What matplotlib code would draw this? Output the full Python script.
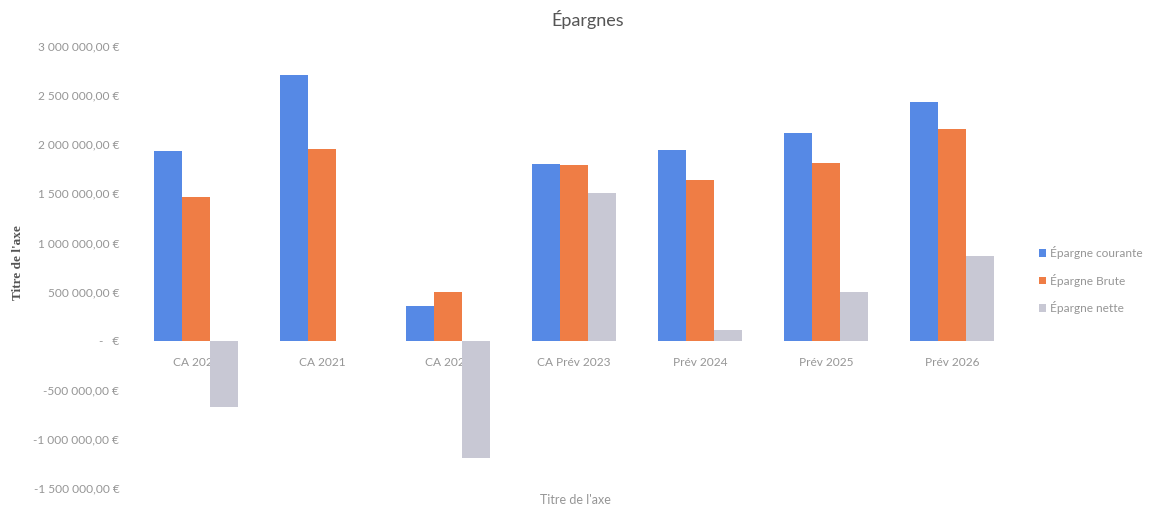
import matplotlib
matplotlib.use("Agg")
import matplotlib.pyplot as plt
import numpy as np

categories = ["CA 2020", "CA 2021", "CA 2022", "CA Prév 2023", "Prév 2024", "Prév 2025", "Prév 2026"]
epargne_courante = [1930000, 2700000, 356000, 1796000, 1940000, 2110000, 2430000]
epargne_brute = [1458000, 1948000, 495000, 1789000, 1636000, 1810000, 2160000]
epargne_nette = [-674000, 0, -1190000, 1507000, 112000, 495000, 864000]
series_names = ["Épargne courante", "Épargne Brute", "Épargne nette"]
y_ticks = [-1500000, -1000000, -500000, 0, 500000, 1000000, 1500000, 2000000, 2500000, 3000000]
y_tick_labels = ["-1 500 000,00 €", "-1 000 000,00 €", "-500 000,00 €", "-   €",
                 "500 000,00 €", "1 000 000,00 €", "1 500 000,00 €", "2 000 000,00 €",
                 "2 500 000,00 €", "3 000 000,00 €"]

colors = ["#5689e5", "#ef7d45", "#c8c8d4"]
text_color = "#969696"
font = ["Lato", "DejaVu Sans"]

fig = plt.figure(figsize=(11.53, 5.08), dpi=100)
ax = fig.add_axes([0.1155, 0.0394, 0.765, 0.870])

x = np.arange(len(categories))
w = 0.222
for i, (vals, name) in enumerate(zip([epargne_courante, epargne_brute, epargne_nette], series_names)):
    ax.bar(x + (i - 1) * w, vals, width=w, color=colors[i], label=name, zorder=3)

ax.set_xlim(-0.5, len(categories) - 0.5)
ax.set_ylim(-1500000, 3000000)
ax.set_yticks(y_ticks)
ax.set_yticklabels(y_tick_labels, fontsize=8.6, color=text_color, family=font)

for s in ["top", "right", "left"]:
    ax.spines[s].set_visible(False)
ax.spines["bottom"].set_position(("data", 0))
ax.spines["bottom"].set_visible(False)
ax.set_xticks(x)
ax.set_xticklabels(categories, fontsize=8.6, color=text_color, family=font)
ax.tick_params(axis="x", length=0, pad=12)
ax.tick_params(axis="y", length=0, pad=10)

fig.text(0.510, 0.962, "Épargnes", ha="center", va="center", fontsize=13,
         color="#555555", family=font)
fig.text(0.499, 0.015, "Titre de l'axe", ha="center", va="center", fontsize=9,
         color=text_color, family=font)
fig.text(0.016, 0.484, "Titre de l'axe", ha="center", va="center", rotation=90,
         fontsize=9.5, color="#555555", family=["Liberation Serif", "DejaVu Serif"],
         fontweight="bold")

leg = ax.legend(loc="center left", bbox_to_anchor=(1.015, 0.47), frameon=False,
                prop={"family": font, "size": 8.6}, handlelength=0.6, handleheight=0.6,
                handletextpad=0.3, labelspacing=1.2, labelcolor=text_color)

fig.savefig("out.png", dpi=100, facecolor="white")
